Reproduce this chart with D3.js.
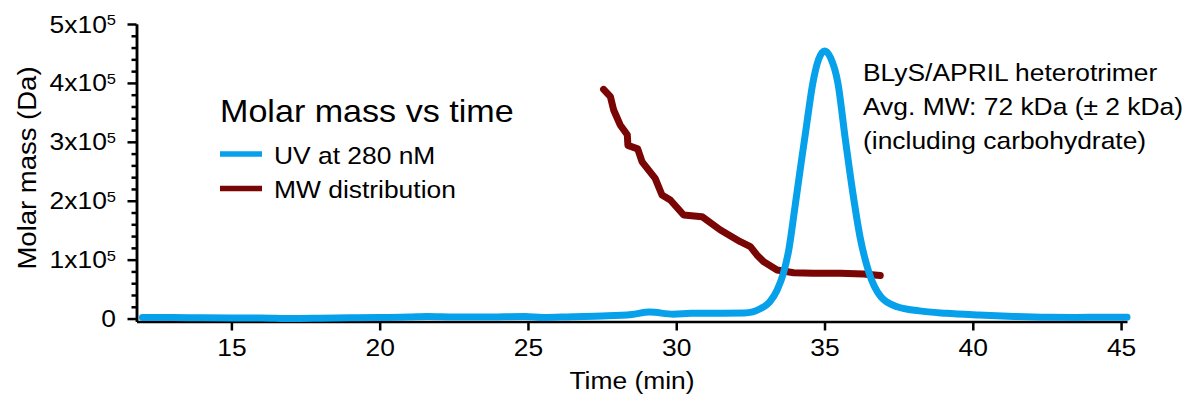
<!DOCTYPE html>
<html>
<head>
<meta charset="utf-8">
<script src="https://cdn.jsdelivr.net/npm/d3@7"></script>
<style>
  body { margin: 0; background: #fff; }
  svg { display: block; font-family: "Liberation Sans", Arial, sans-serif; }
</style>
</head>
<body>
<svg id="chart" width="1200" height="403"></svg>
<script>
// UV trace, plotted on the molar mass axis
const uvTime = [12.0, 13.0, 14.0, 15.0, 16.0, 17.0, 18.0, 19.0, 20.0, 21.0, 21.6, 22.5, 23.5, 24.9, 25.5, 26.5,
  27.5, 28.5, 29.1, 29.9, 30.5, 31.5, 32.3, 32.85, 33.15, 33.4, 33.62, 33.8, 34.0, 34.2, 34.4, 34.6, 34.8,
  35.0, 35.2, 35.45, 35.7, 35.95, 36.2, 36.5, 36.9, 37.45, 38.2, 39.1, 40.2, 41.4, 42.5, 43.5, 45.2];
const uvSignal = [1800, 1800, 1200, 1000, 1000, 0, 500, 1200, 1800, 2500, 3500, 2600, 2500, 3500, 1800, 3200,
  4300, 7000, 11000, 7500, 9000, 9200, 9400, 17000, 28000, 48000, 78000, 118000, 188000, 260000, 330000, 398000, 440000,
  454000, 443000, 400000, 305000, 215000, 138000, 78000, 37000, 20000, 13000, 9000, 6000, 3500, 2200, 2000, 2200];

// MW distribution
const mwTime = [27.55, 27.78, 27.89, 28.11, 28.35, 28.37, 28.7, 28.85, 29.29, 29.52, 29.8, 30.25, 30.87,
  31.49, 32.16, 32.5, 32.72, 32.95, 33.4, 33.96, 34.63, 35.53, 36.32, 36.88];
const mwMass = [389000, 376600, 354000, 328600, 312000, 294000, 288000, 266000, 238000, 209800, 201300, 175800, 173000,
  150300, 130500, 122000, 108000, 96500, 82400, 77800, 76800, 76800, 75600, 73000];

const xTicks = [15, 20, 25, 30, 35, 40, 45];
const yTicks = [0, 1, 2, 3, 4, 5];   // multiples of 10^5
const legendLabels = ["UV at 280 nM", "MW distribution"];
const legendTitle = "Molar mass vs time";
const noteLines = ["BLyS/APRIL heterotrimer", "Avg. MW: 72 kDa (\u00b1 2 kDa)", "(including carbohydrate)"];

const blue = "#06a1ea", maroon = "#7a0505";
const SX = 1.1; // text in the source is a little wide

const svg = d3.select("#chart");

const x = d3.scaleLinear().domain([11.8, 45.2]).range([136.5, 1127]);
const y = d3.scaleLinear().domain([-5000, 500000]).range([321.5, 24]);

const label = (g, px, py, str, size, anchor) =>
  g.append("text")
    .attr("transform", `translate(${px},${py}) scale(${SX},1)`)
    .attr("font-size", size)
    .attr("text-anchor", anchor || "start")
    .attr("fill", "#000")
    .text(str);

// x axis
const gx = svg.append("g")
  .attr("transform", `translate(0,${y.range()[0]})`)
  .call(d3.axisBottom(x).tickValues(xTicks).tickSize(9).tickSizeOuter(0).tickPadding(8));
gx.selectAll("path, line").attr("stroke-width", 2.5);
gx.selectAll("text")
  .attr("font-size", 24)
  .attr("font-family", "Liberation Sans, Arial, sans-serif")
  .attr("transform", `scale(${SX},1)`);

// y axis: minor ticks then major ticks
const minor = d3.range(0, 500001, 20000).filter(v => v % 100000 !== 0);
const gyMinor = svg.append("g")
  .attr("transform", `translate(${x.range()[0]},0)`)
  .call(d3.axisLeft(y).tickValues(minor).tickSize(5).tickSizeOuter(0).tickFormat(""));
gyMinor.selectAll("path, line").attr("stroke-width", 2.5);

const gy = svg.append("g")
  .attr("transform", `translate(${x.range()[0]},0)`)
  .call(d3.axisLeft(y).tickValues(yTicks.map(d => d * 1e5)).tickSize(9).tickSizeOuter(0).tickFormat(""));
gy.selectAll("path, line").attr("stroke-width", 2.5);

yTicks.forEach(k => {
  const t = label(svg, 116, y(k * 1e5) + 8.5, null, 24, "end");
  if (k === 0) { t.text("0"); return; }
  t.append("tspan").text(`${k}x10`);
  t.append("tspan").attr("font-size", 15).attr("dy", -7.5).text("5");
});

// axis titles
label(svg, 632, 389, "Time (min)", 24, "middle");
svg.append("text")
  .attr("transform", `translate(36,168) rotate(-90) scale(${SX},1)`)
  .attr("font-size", 25)
  .attr("text-anchor", "middle")
  .text("Molar mass (Da)");

// curves
const line = d3.line().x(d => x(d[0])).y(d => y(d[1]));

svg.append("path")
  .datum(d3.zip(mwTime, mwMass))
  .attr("d", line)
  .attr("fill", "none")
  .attr("stroke", maroon)
  .attr("stroke-width", 7)
  .attr("stroke-linejoin", "round")
  .attr("stroke-linecap", "round");

svg.append("path")
  .datum(d3.zip(uvTime, uvSignal))
  .attr("d", line.curve(d3.curveMonotoneX))
  .attr("fill", "none")
  .attr("stroke", blue)
  .attr("stroke-width", 7)
  .attr("stroke-linejoin", "round")
  .attr("stroke-linecap", "round");

// legend
const lg = svg.append("g");
label(lg, 220, 122, legendTitle, 31);
[blue, maroon].forEach((c, i) => {
  const ly = 154 + i * 34.5;
  lg.append("line")
    .attr("x1", 220).attr("x2", 262)
    .attr("y1", ly).attr("y2", ly)
    .attr("stroke", c).attr("stroke-width", 5.5);
  label(lg, 274, ly + 9.5, legendLabels[i], 24);
});

// annotation
noteLines.forEach((s, i) => label(svg, 863, 80.5 + i * 34, s, 24));
</script>
</body>
</html>
